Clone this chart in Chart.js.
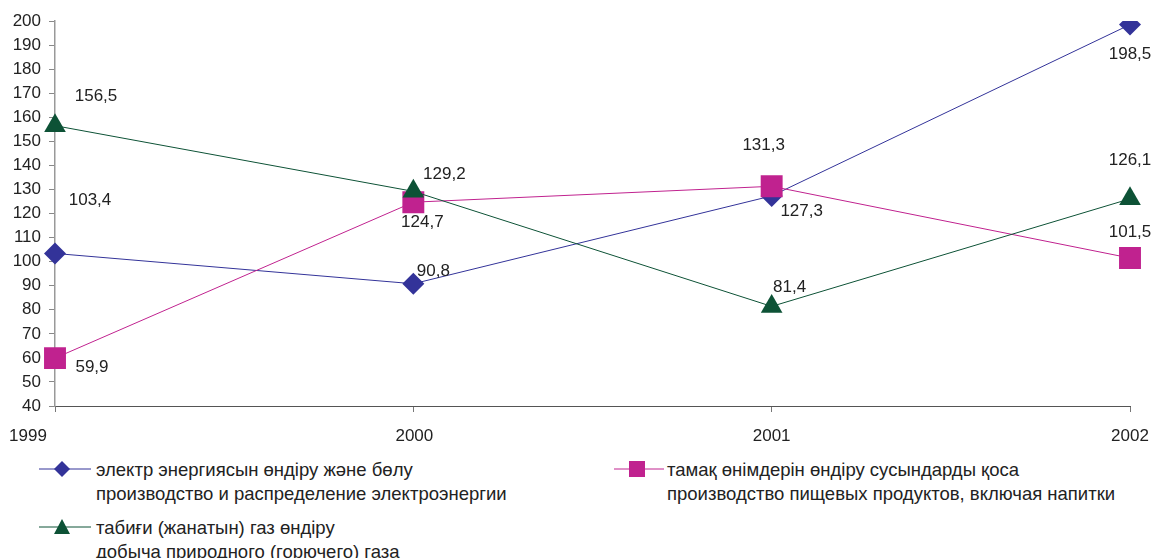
<!DOCTYPE html>
<html>
<head>
<meta charset="utf-8">
<script src="https://cdn.jsdelivr.net/npm/chart.js@4/dist/chart.umd.min.js"></script>
<style>
  html, body { margin: 0; padding: 0; background: #fff; }
  body { width: 1154px; height: 558px; position: relative; overflow: hidden; font-family: "Liberation Sans", Arial, sans-serif; }
  #wrap { position: absolute; left: 0; top: 0; width: 1154px; height: 450px; }
  .leg { position: absolute; font-size: 18.5px; line-height: 24px; color: #222; white-space: nowrap; }
  .leg svg { position: absolute; left: 0; top: 0; }
  .leg .txt { position: absolute; top: 0; }
</style>
</head>
<body>
<div id="wrap"><canvas id="c" width="1154" height="450"></canvas></div>

<div class="leg" style="left:39px; top:458px;">
  <svg width="54" height="22"><line x1="0" y1="11" x2="52" y2="11" stroke="#333399" stroke-width="1"/><polygon points="23,3 31,11 23,19 15,11" fill="#333399"/></svg>
  <div class="txt" style="left:57px;">электр энергиясын өндіру және бөлу<br>производство и распределение электроэнергии</div>
</div>
<div class="leg" style="left:614px; top:458px;">
  <svg width="52" height="22"><line x1="0" y1="11" x2="50" y2="11" stroke="#c0228f" stroke-width="1"/><rect x="15" y="3" width="16" height="16" fill="#c0228f"/></svg>
  <div class="txt" style="left:53px;">тамақ өнімдерін өндіру сусындарды қоса<br>производство пищевых продуктов, включая напитки</div>
</div>
<div class="leg" style="left:39px; top:516px;">
  <svg width="54" height="22"><line x1="0" y1="11" x2="52" y2="11" stroke="#0d5236" stroke-width="1"/><polygon points="23,3 31,18 15,18" fill="#0d5236"/></svg>
  <div class="txt" style="left:57px;">табиғи (жанатын) газ өндіру<br>добыча природного (горючего) газа</div>
</div>

<script>
const years = ['1999', '2000', '2001', '2002'];
const electricity = [103.4, 90.8, 127.3, 198.5];
const food = [59.9, 124.7, 131.3, 101.5];
const gas = [156.5, 129.2, 81.4, 126.1];
const yTicks = [40, 50, 60, 70, 80, 90, 100, 110, 120, 130, 140, 150, 160, 170, 180, 190, 200];

// label offsets (px) relative to each point, per dataset
const labelOffsets = [
  [[35, -53], [20, -12], [30, 15], [0, 30]],
  [[37, 9], [9, 20], [-8, -41], [0, -26]],
  [[41, -29], [31, -17], [18, -19], [0, -39]]
];
const xLabelShift = [-27, 1, 0, 0];

const fmt = v => String(v).replace('.', ',');
const FONT = '17px "Liberation Sans", Arial, sans-serif';

const labelsPlugin = {
  id: 'valueLabels',
  afterDatasetsDraw(chart) {
    const ctx = chart.ctx;
    ctx.save();
    ctx.font = FONT;
    ctx.fillStyle = '#222';
    ctx.textAlign = 'center';
    ctx.textBaseline = 'middle';
    chart.data.datasets.forEach((ds, di) => {
      const meta = chart.getDatasetMeta(di);
      meta.data.forEach((pt, i) => {
        const o = labelOffsets[di][i];
        ctx.fillText(fmt(ds.data[i]), pt.x + o[0], pt.y + o[1]);
      });
    });
    const xs = chart.scales.x;
    const yPos = chart.chartArea.bottom + 30;
    years.forEach((y, i) => {
      ctx.fillText(y, xs.getPixelForValue(i) + xLabelShift[i], yPos);
    });
    ctx.restore();
  }
};

new Chart(document.getElementById('c'), {
  type: 'line',
  data: {
    labels: years,
    datasets: [
      { label: 'электр энергиясын өндіру және бөлу', data: electricity, borderColor: '#333399', backgroundColor: '#333399',
        borderWidth: 1, pointStyle: 'rectRot', pointRadius: 11, pointHoverRadius: 11, pointBorderWidth: 0, order: 3, tension: 0 },
      { label: 'тамақ өнімдерін өндіру сусындарды қоса', data: food, borderColor: '#c0228f', backgroundColor: '#c0228f',
        borderWidth: 1, pointStyle: 'rect', pointRadius: 15.5, pointHoverRadius: 15.5, pointBorderWidth: 0, order: 2, tension: 0 },
      { label: 'табиғи (жанатын) газ өндіру', data: gas, borderColor: '#0d5236', backgroundColor: '#0d5236',
        borderWidth: 1, pointStyle: 'triangle', pointRadius: 12.5, pointHoverRadius: 12.5, pointBorderWidth: 0, order: 1, tension: 0 }
    ]
  },
  options: {
    responsive: false,
    animation: false,
    layout: { padding: { top: 21, right: 24, left: 0, bottom: 0 } },
    plugins: { legend: { display: false }, tooltip: { enabled: false }, title: { display: false } },
    scales: {
      x: {
        offset: false,
        grid: { drawOnChartArea: false, drawTicks: true, tickLength: 6, color: '#777' },
        border: { color: '#555', width: 1 },
        ticks: { display: false },
        afterFit: s => { s.height = 44; }
      },
      y: {
        min: 40, max: 200,
        afterBuildTicks: s => { s.ticks = yTicks.map(v => ({ value: v })); },
        grid: { drawOnChartArea: false, drawTicks: true, tickLength: 6, color: '#888' },
        border: { color: '#999', width: 1.5 },
        ticks: { color: '#222', font: { family: '"Liberation Sans", Arial, sans-serif', size: 17 }, padding: 8 },
        afterFit: s => { s.width = 55; }
      }
    }
  },
  plugins: [labelsPlugin]
});
</script>
</body>
</html>
